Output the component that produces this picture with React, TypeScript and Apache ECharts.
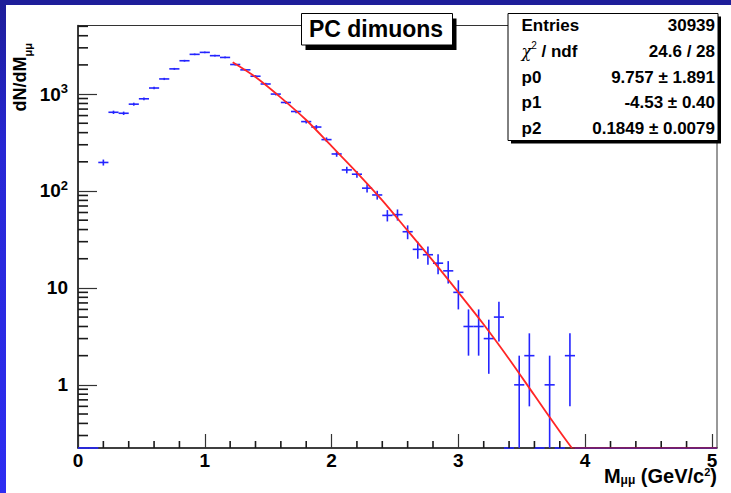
import React, { useEffect, useRef } from 'react';
import * as echarts from 'echarts';

// ---- data ----
const binCenters = [
  0.04, 0.12, 0.2, 0.28, 0.36, 0.44, 0.52, 0.6, 0.68, 0.76, 0.84, 0.92, 1.0,
  1.08, 1.16, 1.24, 1.32, 1.4, 1.48, 1.56, 1.64, 1.72, 1.8, 1.88, 1.96, 2.04,
  2.12, 2.2, 2.28, 2.36, 2.44, 2.52, 2.6, 2.68, 2.76, 2.84, 2.92, 3.0, 3.08,
  3.16, 3.24, 3.32, 3.4, 3.48, 3.56, 3.64, 3.72, 3.8, 3.88, 3.96, 4.04, 4.12,
  4.2, 4.28, 4.36, 4.44, 4.52, 4.6, 4.68, 4.76, 4.84, 4.92, 5.0,
];
const counts = [
  0, 0, 197, 649, 634, 787, 894, 1155, 1433, 1820, 2208, 2570, 2693,
  2490, 2388, 2018, 1778, 1528, 1271, 1000, 819, 661, 520, 457, 339, 241,
  165, 149, 107, 91, 56, 57, 38, 25, 22, 18, 15, 9, 4,
  4, 3, 5, 0, 1, 2, 0, 1, 0, 2, 0, 0, 0,
  0, 0, 0, 0, 0, 0, 0, 0, 0, 0, 0,
];
const errors = [
  0, 0, 14, 25.5, 25.2, 28.1, 29.9, 34, 37.9, 42.7, 47, 50.7, 51.9,
  49.9, 48.9, 44.9, 42.2, 39.1, 35.7, 31.6, 28.6, 25.7, 22.8, 21.4, 18.4, 15.5,
  12.8, 12.2, 10.3, 9.5, 7.5, 7.5, 6.2, 5, 4.7, 4.2, 3.9, 3, 2,
  2, 1.7, 2.2, 0, 1, 1.4, 0, 1, 0, 1.4, 0, 0, 0,
  0, 0, 0, 0, 0, 0, 0, 0, 0, 0, 0,
];
const binWidth = 0.08;

const fitX = [1.22, 1.4, 1.6, 1.8, 2.0, 2.2, 2.4, 2.6, 2.8, 3.0, 3.2, 3.4, 3.6, 3.8, 3.895];
const fitY = [2130, 1500, 920, 540, 290, 155, 80, 39, 19, 9.0, 4.2, 1.85, 0.78, 0.33, 0.223];
const fitTailX = [3.895, 5.04];
const fitTailY = [0.223, 0.223];

const xMin = 0;
const xMax = 5.04;
const yMin = 0.223;
const yMax = 5100;

const xMajorTicks = [0, 1, 2, 3, 4, 5];
const xMinorTicks = [
  0.2, 0.4, 0.6, 0.8, 1.2, 1.4, 1.6, 1.8, 2.2, 2.4, 2.6, 2.8, 3.2, 3.4, 3.6,
  3.8, 4.2, 4.4, 4.6, 4.8,
];
const yMajorTicks = [1, 10, 100, 1000];
const yMajorLabels = ['1', '10', '10^2', '10^3'];
const yMinorTicks = [
  0.3, 0.4, 0.5, 0.6, 0.7, 0.8, 0.9, 2, 3, 4, 5, 6, 7, 8, 9, 20, 30, 40, 50,
  60, 70, 80, 90, 200, 300, 400, 500, 600, 700, 800, 900, 2000, 3000, 4000, 5000,
];

const titleText = 'PC dimuons';
const statsLabels = ['{b|Entries}', '{c|χ}{p|2}{b| / ndf}', '{b|p0}', '{b|p1}', '{b|p2}'];
const statsValues = ['30939', '24.6 / 28', '9.757 ± 1.891', '-4.53 ± 0.40', '0.1849 ± 0.0079'];

const FONT = '"Liberation Sans", Arial, Helvetica, sans-serif';
const DATA_COLOR = '#2424ff';
const FIT_COLOR = '#ff2626';
const TICK_COLOR = '#333';
const MINOR_TICK_COLOR = '#1a1a1a';

function buildOption(): any {
  const histData = binCenters.map((x, i) => [x, counts[i], errors[i]]);
  const fitData = fitX.map((x, i) => [x, fitY[i]]);
  const tailData = fitTailX.map((x, i) => [x, fitTailY[i]]);

  const statsRowY = [25.8, 51.3, 77, 102.6, 128];
  const statsGraphics: any[] = [];
  statsLabels.forEach((t, i) => {
    statsGraphics.push({
      type: 'text',
      z: 102,
      style: {
        x: 521.5,
        y: statsRowY[i],
        text: t,
        align: 'left',
        verticalAlign: 'middle',
        fill: '#000',
        rich: {
          b: { fontFamily: FONT, fontSize: 17, fontWeight: 'bold', lineHeight: 22 },
          c: { fontFamily: 'DejaVu Serif, serif', fontSize: 16, fontStyle: 'italic', lineHeight: 22 },
          p: { fontFamily: FONT, fontSize: 10, lineHeight: 10, verticalAlign: 'top' },
        },
      },
    });
    statsGraphics.push({
      type: 'text',
      z: 102,
      style: {
        x: 715,
        y: statsRowY[i],
        text: statsValues[i],
        align: 'right',
        verticalAlign: 'middle',
        fill: '#000',
        fontFamily: FONT,
        fontSize: 17,
        fontWeight: 'bold',
      },
    });
  });

  const grad = new echarts.graphic.LinearGradient(0, 0, 0, 1, [
    { offset: 0, color: '#1d1d98' },
    { offset: 0.3, color: '#2727d4' },
    { offset: 1, color: '#2d2df2' },
  ]);

  return {
    animation: false,
    grid: {
      left: 78,
      top: 25.5,
      right: 14,
      bottom: 45,
      show: true,
      borderColor: '#333',
    },
    xAxis: {
      type: 'value',
      min: xMin,
      max: xMax,
      axisLine: { lineStyle: { color: '#222', width: 1.6 } },
      axisTick: {
        inside: true,
        length: 14,
        customValues: xMajorTicks,
        lineStyle: { color: TICK_COLOR, width: 1.2 },
      },
      axisLabel: {
        customValues: xMajorTicks,
        margin: 3,
        color: '#000',
        fontFamily: FONT,
        fontSize: 19,
        fontWeight: 'bold',
        formatter: (v: number) => String(Math.round(v)),
      },
      splitLine: { show: false },
    },
    yAxis: {
      type: 'log',
      min: yMin,
      max: yMax,
      axisLine: { show: true, lineStyle: { color: '#222', width: 1.6 } },
      axisTick: {
        show: true,
        inside: true,
        length: 19,
        customValues: yMajorTicks,
        lineStyle: { color: TICK_COLOR, width: 1.2 },
      },
      axisLabel: {
        customValues: yMajorTicks,
        margin: 10,
        color: '#000',
        formatter: (v: number) => {
          const idx = yMajorTicks.findIndex((t) => Math.abs(t - v) / t < 1e-6);
          const lab = idx >= 0 ? yMajorLabels[idx] : String(v);
          const parts = lab.split('^');
          return parts.length > 1 ? `{b|${parts[0]}}{p|${parts[1]}}` : `{b|${parts[0]}}`;
        },
        rich: {
          b: { fontFamily: FONT, fontSize: 19, fontWeight: 'bold', lineHeight: 24, color: '#000' },
          p: { fontFamily: FONT, fontSize: 13, fontWeight: 'bold', lineHeight: 13, verticalAlign: 'top', color: '#000' },
        },
      },
      splitLine: { show: false },
    },
    series: [
      {
        type: 'custom',
        encode: { x: 0, y: 1 },
        data: histData,
        renderItem: (params: any, api: any) => {
          const x = api.value(0) as number;
          const y = api.value(1) as number;
          const e = api.value(2) as number;
          const yc = y > 0 ? y : yMin;
          const l = api.coord([x - binWidth / 2, yc]);
          const r = api.coord([x + binWidth / 2, yc]);
          const children: any[] = [
            {
              type: 'line',
              shape: { x1: l[0], y1: l[1], x2: r[0], y2: r[1] },
              style: { stroke: DATA_COLOR, lineWidth: 1.6 },
            },
          ];
          if (y > 0 && e > 0) {
            const t = api.coord([x, y + e]);
            const b = api.coord([x, Math.max(y - e, yMin)]);
            children.push({
              type: 'line',
              shape: { x1: t[0], y1: t[1], x2: b[0], y2: b[1] },
              style: { stroke: DATA_COLOR, lineWidth: 1.6 },
            });
          }
          return { type: 'group', children };
        },
      },
      {
        type: 'custom',
        encode: { x: 0, y: 1 },
        data: yMinorTicks.map((v) => [xMin, v]),
        renderItem: (p: any, api: any) => {
          const c = api.coord([api.value(0), api.value(1)]);
          return {
            type: 'line',
            shape: { x1: c[0], y1: c[1], x2: c[0] + 10, y2: c[1] },
            style: { stroke: MINOR_TICK_COLOR, lineWidth: 1.6 },
          };
        },
      },
      {
        type: 'custom',
        encode: { x: 0, y: 1 },
        data: xMinorTicks.map((v) => [v, yMin]),
        renderItem: (p: any, api: any) => {
          const c = api.coord([api.value(0), api.value(1)]);
          return {
            type: 'line',
            shape: { x1: c[0], y1: c[1], x2: c[0], y2: c[1] - 7 },
            style: { stroke: MINOR_TICK_COLOR, lineWidth: 1.6 },
          };
        },
      },
      {
        type: 'line',
        data: fitData,
        showSymbol: false,
        symbol: 'none',
        smooth: 0.3,
        z: 4,
        lineStyle: { color: FIT_COLOR, width: 1.8 },
      },
      {
        type: 'line',
        data: tailData,
        showSymbol: false,
        symbol: 'none',
        z: 4,
        lineStyle: { color: '#9a1c3c', width: 1.6 },
      },
    ],
    graphic: [
      { type: 'rect', z: 100, shape: { x: 0, y: 0, width: 6, height: 493 }, style: { fill: grad } },
      { type: 'rect', z: 100, shape: { x: 0, y: 0, width: 731, height: 5 }, style: { fill: '#1e1e9a' } },
      { type: 'rect', z: 100, shape: { x: 305.5, y: 18.5, width: 151, height: 31.5 }, style: { fill: '#000' } },
      { type: 'rect', z: 101, shape: { x: 301.5, y: 13.5, width: 151, height: 31.5 }, style: { fill: '#fff', stroke: '#000', lineWidth: 1 } },
      {
        type: 'text',
        z: 102,
        style: {
          x: 376,
          y: 28.5,
          text: titleText,
          align: 'center',
          verticalAlign: 'middle',
          fill: '#000',
          fontFamily: FONT,
          fontSize: 23,
          fontWeight: 'bold',
        },
      },
      { type: 'rect', z: 100, shape: { x: 511, y: 16.5, width: 210, height: 127 }, style: { fill: '#000' } },
      { type: 'rect', z: 101, shape: { x: 508, y: 13.5, width: 210, height: 127 }, style: { fill: '#fff', stroke: '#000', lineWidth: 1 } },
      ...statsGraphics,
      {
        type: 'text',
        z: 102,
        style: {
          x: 717,
          y: 466,
          text: '{m|M}{s|μμ}{m| (GeV/c}{p|2}{m|)}',
          align: 'right',
          verticalAlign: 'top',
          fill: '#000',
          rich: {
            m: { fontFamily: FONT, fontSize: 20, fontWeight: 'bold', lineHeight: 20 },
            s: { fontFamily: FONT, fontSize: 12, fontWeight: 'bold', lineHeight: 10, verticalAlign: 'bottom' },
            p: { fontFamily: FONT, fontSize: 11, fontWeight: 'bold', lineHeight: 11, verticalAlign: 'top' },
          },
        },
      },
      {
        type: 'text',
        z: 102,
        x: 5.5,
        y: 43,
        rotation: Math.PI / 2,
        style: {
          x: 0,
          y: 0,
          text: '{m|dN/dM}{s|μμ}',
          align: 'right',
          verticalAlign: 'top',
          fill: '#000',
          rich: {
            m: { fontFamily: FONT, fontSize: 18, fontWeight: 'bold', lineHeight: 28 },
            s: { fontFamily: FONT, fontSize: 11, fontWeight: 'bold', lineHeight: 12, verticalAlign: 'bottom' },
          },
        },
      },
    ],
  };
}

export default function App() {
  const ref = useRef<HTMLDivElement>(null);
  useEffect(() => {
    document.body.style.margin = '0';
    const chart = echarts.init(ref.current!, null, { renderer: 'svg' });
    chart.setOption(buildOption());
    return () => chart.dispose();
  }, []);
  return (
    <div
      ref={ref}
      style={{ position: 'absolute', left: 0, top: 0, width: 731, height: 493, background: '#fff' }}
    />
  );
}
